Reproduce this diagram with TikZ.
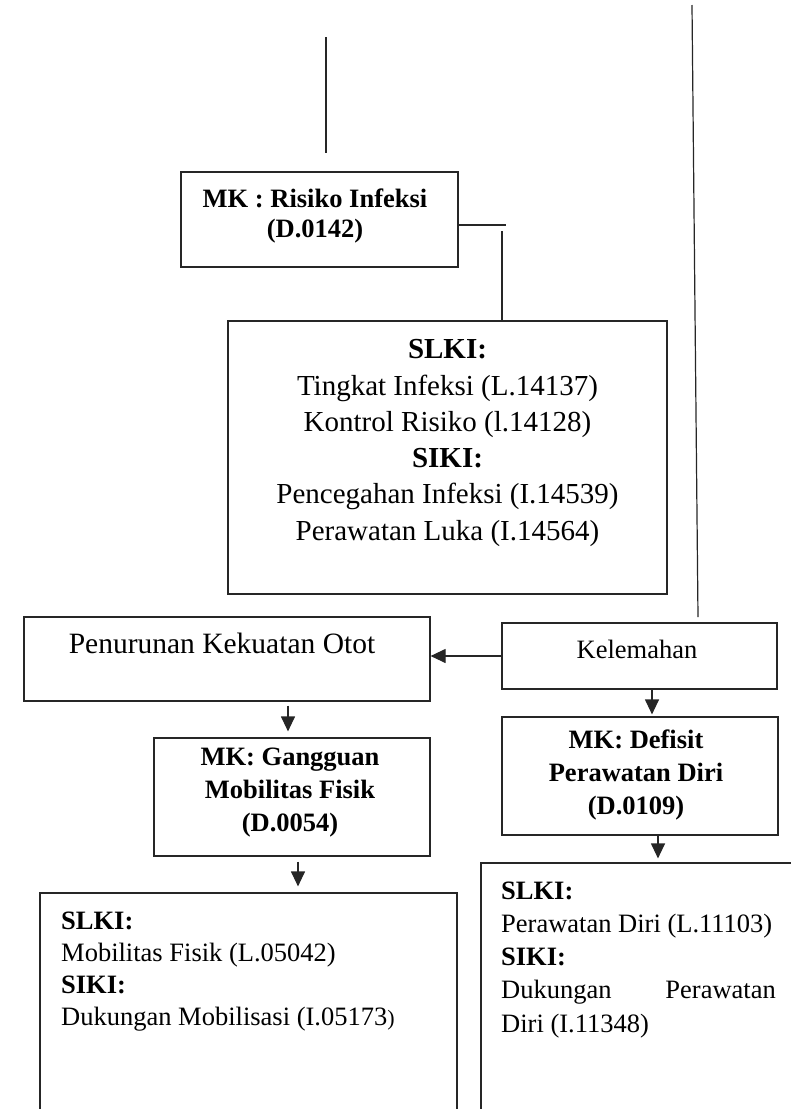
\documentclass[tikz,border=0pt]{standalone}
\usepackage{fontspec}
\setmainfont{Liberation Serif}
\usetikzlibrary{arrows.meta,calc}
\newcommand\fsBig{\fontsize{29}{36}\selectfont}
\newcommand\fsPen{\fontsize{29.5}{36}\selectfont}
\newcommand\fsMid{\fontsize{26.5}{33}\selectfont}
\newcommand\fsSmall{\fontsize{22}{33}\selectfont}
\begin{document}
\begin{tikzpicture}[x=1pt,y=-1pt,
  box/.style={draw=black!85, line width=1.2pt, rectangle, inner sep=0pt},
  ln/.style={draw=black!85, line width=1.2pt},
  arr/.style={ln, -{Triangle[length=15pt,width=14pt]}},
  txt/.style={inner sep=0pt, anchor=base},
  ltxt/.style={inner sep=0pt, anchor=base west},
  rtxt/.style={inner sep=0pt, anchor=base east}]
\useasboundingbox (0,0) rectangle (791,1109);

% boxes
\node[box, minimum width=277pt, minimum height=95pt] (risk) at (319.5,219.5) {};
\node[box, minimum width=439pt, minimum height=273pt] (slkiA) at (447.5,457.5) {};
\node[box, minimum width=406pt, minimum height=84pt] (pen) at (227,659) {};
\node[box, minimum width=275pt, minimum height=66pt] (kel) at (639.5,656) {};
\node[box, minimum width=276pt, minimum height=118pt] (gang) at (292,797) {};
\node[box, minimum width=276pt, minimum height=118pt] (def) at (640,776) {};
\node[box, minimum width=417pt, minimum height=247pt] (slkiB) at (248.5,1016.5) {};
\node[box, minimum width=349pt, minimum height=277pt] (slkiC) at (655.5,1001.5) {};

% texts: risk
\node[txt, font=\fsMid\bfseries] (r1) at (315,207) {MK : Risiko Infeksi};
\node[txt, font=\fsMid\bfseries] (r2) at (315,237) {(D.0142)};

% texts: top SLKI box
\node[txt, font=\fsBig\bfseries] (a1) at (447.5,358) {SLKI:};
\node[txt, font=\fsBig] (a2) at (447.5,395) {Tingkat Infeksi (L.14137)};
\node[txt, font=\fsBig] (a3) at (447.5,431) {Kontrol Risiko (l.14128)};
\node[txt, font=\fsBig\bfseries] (a4) at (447.5,467) {SIKI:};
\node[txt, font=\fsBig] (a5) at (447.5,503) {Pencegahan Infeksi (I.14539)};
\node[txt, font=\fsBig] (a6) at (447.5,540) {Perawatan Luka (I.14564)};

% texts: pen, kel
\node[txt, font=\fsPen] (p1) at (222,653) {Penurunan Kekuatan Otot};
\node[txt, font=\fsMid] (k1) at (637,658) {Kelemahan};

% texts: gang
\node[txt, font=\fsMid\bfseries] (g1) at (290,765) {MK: Gangguan};
\node[txt, font=\fsMid\bfseries] (g2) at (290,798) {Mobilitas Fisik};
\node[txt, font=\fsMid\bfseries] (g3) at (290,831) {(D.0054)};

% texts: def
\node[txt, font=\fsMid\bfseries] (d1) at (636,748) {MK: Defisit};
\node[txt, font=\fsMid\bfseries] (d2) at (636,781) {Perawatan Diri};
\node[txt, font=\fsMid\bfseries] (d3) at (636,814) {(D.0109)};

% texts: bottom left box
\node[ltxt, font=\fsMid\bfseries] (b1) at (61,929) {SLKI:};
\node[ltxt, font=\fsMid] (b2) at (61,961) {Mobilitas Fisik (L.05042)};
\node[ltxt, font=\fsMid\bfseries] (b3) at (61,993) {SIKI:};
\node[ltxt, font=\fsMid] (b4) at (61,1025) {Dukungan Mobilisasi (I.05173{\fsSmall)}};

% texts: bottom right box
\node[ltxt, font=\fsMid\bfseries] (c1) at (501,899) {SLKI:};
\node[ltxt, font=\fsMid] (c2) at (501,932) {Perawatan Diri (L.11103)};
\node[ltxt, font=\fsMid\bfseries] (c3) at (501,965) {SIKI:};
\node[ltxt, font=\fsMid] (c4) at (501,998) {Dukungan};
\node[rtxt, font=\fsMid] (c5) at (776,998) {Perawatan};
\node[ltxt, font=\fsMid] (c6) at (501,1032) {Diri (I.11348)};

% free lines
\coordinate (l1a) at (326,37);
\coordinate (l1b) at (326,153);
\draw[ln] (l1a) -- (l1b);
\coordinate (l2a) at (692,5);
\coordinate (l2b) at (698,617);
\draw[ln] (l2a) -- (l2b);
\coordinate (h1) at (506,225);
\draw[ln] (risk.east |- h1) -- (h1);
\coordinate (v1a) at (502,231);
\draw[ln] (v1a) -- (v1a |- slkiA.north) ++(0,0);
\coordinate (v1b) at (502,312);

% arrows
\draw[arr] (kel.west) -- (kel.west -| pen.east);
\coordinate (xa) at (288,0);
\draw[arr, shorten <=4pt, shorten >=6pt] (pen.south -| xa) -- (gang.north -| xa);
\coordinate (xb) at (652,0);
\draw[arr, shorten >=2pt] (kel.south -| xb) -- (def.north -| xb);
\coordinate (xc) at (658,0);
\draw[arr, shorten >=4pt] (def.south -| xc) -- (slkiC.north -| xc);
\coordinate (xd) at (298,0);
\draw[arr, shorten <=5pt, shorten >=6pt] (gang.south -| xd) -- (slkiB.north -| xd);
\end{tikzpicture}
\end{document}
